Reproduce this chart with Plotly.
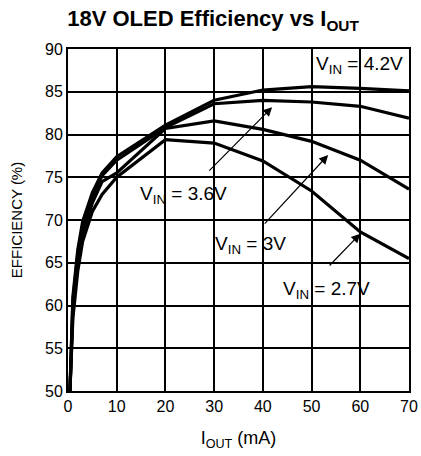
import plotly.graph_objects as go

# output current (mA) at each measured point
iout_ma = [0.4, 1, 2, 3, 5, 7, 10, 20, 30, 40, 50, 60, 70]

# efficiency (%) per input voltage
eff_42v = [50, 61.0, 66.5, 69.8, 73.2, 75.5, 77.4, 81.1, 84.0, 85.2, 85.6, 85.4, 85.1]
eff_36v = [50, 60.5, 66.0, 69.3, 72.8, 75.2, 77.0, 80.8, 83.6, 84.0, 83.8, 83.3, 81.9]
eff_30v = [50, 59.5, 65.0, 68.5, 72.0, 74.5, 75.5, 80.7, 81.6, 80.6, 79.2, 77.0, 73.6]
eff_27v = [50, 58.5, 64.0, 67.5, 71.0, 73.0, 75.0, 79.4, 79.0, 76.9, 73.4, 68.6, 65.5]

series = [("4.2V", eff_42v), ("3.6V", eff_36v), ("3V", eff_30v), ("2.7V", eff_27v)]

# curve labels: (text, x, y) and arrows: (tail x, tail y, head x, head y)
labels = [
    ("V<sub>IN</sub> = 4.2V", 59.8, 88.1),
    ("V<sub>IN</sub> = 3.6V", 23.8, 72.9),
    ("V<sub>IN</sub> = 3V", 37.4, 67.1),
    ("V<sub>IN</sub> = 2.7V", 53.0, 61.8),
]
arrows = [
    (28.7, 75.6, 41.9, 83.2),
    (40.1, 69.4, 53.4, 77.6),
    (53.4, 64.5, 60.0, 68.4),
]

FONT = "Liberation Sans, Arial, sans-serif"

fig = go.Figure()
for name, eff in series:
    fig.add_trace(go.Scatter(x=iout_ma, y=eff, name=name, mode="lines",
                             line=dict(color="black", width=3.2)))

for text, x, y in labels:
    fig.add_annotation(x=x, y=y, text=text, showarrow=False,
                       font=dict(family=FONT, size=19, color="black"))

for tx, ty, hx, hy in arrows:
    fig.add_annotation(x=hx, y=hy, ax=tx, ay=ty, xref="x", yref="y",
                       axref="x", ayref="y", text="", showarrow=True,
                       arrowhead=2, arrowsize=1.5, arrowwidth=1.2,
                       arrowcolor="black")

fig.update_layout(
    width=421, height=456,
    margin=dict(l=68, r=12, t=49, b=65, autoexpand=False),
    paper_bgcolor="white", plot_bgcolor="white",
    showlegend=False,
    font=dict(family=FONT, color="black"),
    title=dict(text="<b>18V OLED Efficiency vs I<sub>OUT</sub></b>",
               x=0.506, xanchor="center", y=0.96, yanchor="middle",
               font=dict(size=22)),
)
fig.update_xaxes(range=[0, 70], dtick=10, showgrid=True, gridcolor="black",
                 gridwidth=1.5, showline=True, linecolor="black", linewidth=2,
                 mirror=True, zeroline=False, ticks="", automargin=False,
                 tickfont=dict(size=16, color="black"),
                 title=dict(text="I<sub>OUT</sub> (mA)", font=dict(size=18),
                            standoff=17))
fig.update_yaxes(range=[50, 90], dtick=5, showgrid=True, gridcolor="black",
                 gridwidth=1.5, showline=True, linecolor="black", linewidth=2,
                 mirror=True, zeroline=False, ticks="", automargin=False,
                 tickfont=dict(size=16, color="black"),
                 title=dict(text="EFFICIENCY (%)", font=dict(size=15),
                            standoff=19))

# drop the page's default body margin so the figure fills the window exactly
fig.write_html("out.html", config={"displayModeBar": False},
               post_script="document.body.style.margin='0';"
                           "document.body.style.overflow='hidden';")
